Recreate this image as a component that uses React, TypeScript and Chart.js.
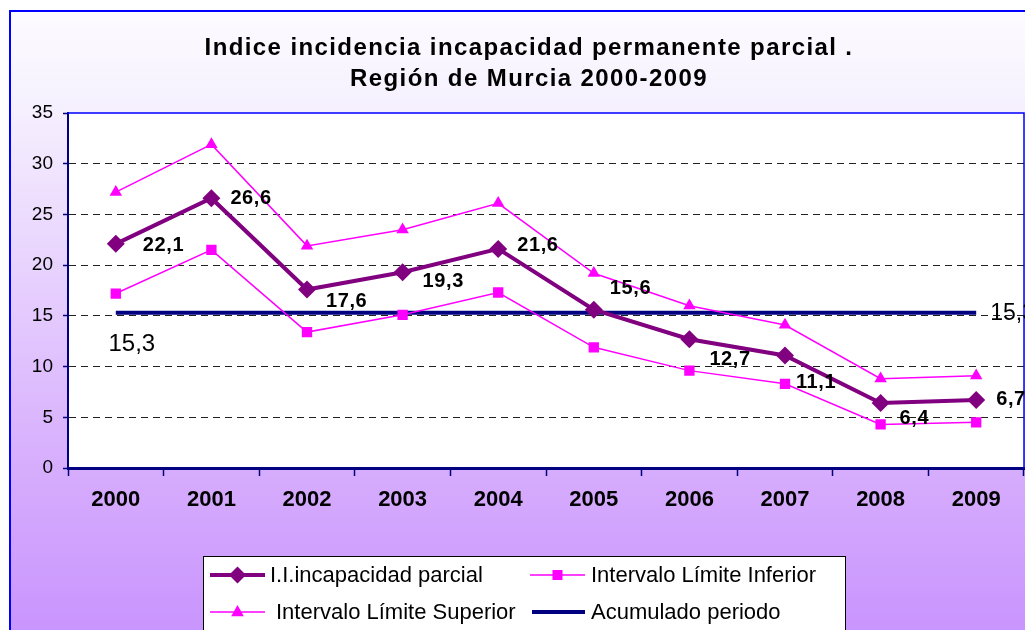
import React, { useEffect, useRef } from "react";
import { Chart, registerables } from "chart.js";

Chart.register(...registerables);

// ---- data ----
const years = ["2000", "2001", "2002", "2003", "2004", "2005", "2006", "2007", "2008", "2009"];
const indice = [22.1, 26.6, 17.6, 19.3, 21.6, 15.6, 12.7, 11.1, 6.4, 6.7];
const limiteInferior = [17.2, 21.5, 13.4, 15.1, 17.3, 11.9, 9.6, 8.3, 4.3, 4.5];
const limiteSuperior = [27.2, 31.9, 21.9, 23.5, 26.1, 19.2, 16.0, 14.1, 8.8, 9.1];
const acumulado = [15.3, 15.3, 15.3, 15.3, 15.3, 15.3, 15.3, 15.3, 15.3, 15.3];
const seriesNames = [
  "I.I.incapacidad parcial",
  "Intervalo Límite Inferior",
  "Intervalo Límite Superior",
  "Acumulado periodo",
];
const titleLines = ["Indice incidencia incapacidad permanente parcial .", "Región de Murcia 2000-2009"];

// ---- styles ----
const FONT = "'Liberation Sans', Arial, Helvetica, sans-serif";
const PURPLE = "#800080";
const MAGENTA = "#ff00ff";
const NAVY = "#000080";
const labelDx = [27, 19, 19, 20, 19, 16, 20, 11, 19, 20];
const labelDy = [2, 0, 12, 9, -3, -21, 20, 27, 15, -1];

const fmt = (v: number) => v.toFixed(1).replace(".", ",");

function drawMarker(ctx: CanvasRenderingContext2D, kind: string, x: number, y: number, r: number, color: string) {
  ctx.save();
  ctx.fillStyle = color;
  ctx.beginPath();
  if (kind === "diamond") {
    ctx.moveTo(x, y - r);
    ctx.lineTo(x + r, y);
    ctx.lineTo(x, y + r);
    ctx.lineTo(x - r, y);
  } else if (kind === "square") {
    ctx.rect(x - r, y - r, 2 * r, 2 * r);
  } else if (kind === "triangle") {
    ctx.moveTo(x, y - r);
    ctx.lineTo(x + r * 0.9, y + r * 0.6);
    ctx.lineTo(x - r * 0.9, y + r * 0.6);
  }
  ctx.closePath();
  ctx.fill();
  ctx.restore();
}

const decorPlugin = {
  id: "decor",
  beforeDraw(chart: any) {
    const { ctx, width, height, chartArea } = chart;
    ctx.save();
    const g = ctx.createLinearGradient(0, 0, 0, height);
    g.addColorStop(0, "#fdfcff");
    g.addColorStop(0.15, "#f6f1fe");
    g.addColorStop(0.75, "#d6acfd");
    g.addColorStop(1, "#c995fe");
    ctx.fillStyle = g;
    ctx.fillRect(1, 2, width, height);
    ctx.fillStyle = "#0000ff";
    ctx.fillRect(1, 2, width, 2);
    ctx.fillRect(1, 2, 2, height);
    ctx.fillStyle = "#ffffff";
    ctx.fillRect(chartArea.left, chartArea.top, chartArea.right - chartArea.left, chartArea.bottom - chartArea.top);

    // title
    ctx.fillStyle = "#000";
    ctx.font = `bold 24px ${FONT}`;
    (ctx as any).letterSpacing = "1.4px";
    ctx.textAlign = "center";
    ctx.textBaseline = "alphabetic";
    ctx.fillText(titleLines[0], 521, 47);
    ctx.fillText(titleLines[1], 521, 78);
    ctx.restore();
  },
  beforeDatasetsDraw(chart: any) {
    const { ctx, chartArea } = chart;
    ctx.save();
    ctx.strokeStyle = "#0000ff";
    ctx.lineWidth = 1.5;
    ctx.beginPath();
    ctx.moveTo(chartArea.left, chartArea.top);
    ctx.lineTo(chartArea.right, chartArea.top);
    ctx.lineTo(chartArea.right, chartArea.bottom);
    ctx.stroke();
    ctx.restore();
  },
  afterDatasetsDraw(chart: any) {
    const { ctx } = chart;
    ctx.save();
    // main series labels
    const meta = chart.getDatasetMeta(0);
    ctx.fillStyle = "#000";
    ctx.font = `bold 20px ${FONT}`;
    (ctx as any).letterSpacing = "0.6px";
    ctx.textAlign = "left";
    ctx.textBaseline = "middle";
    meta.data.forEach((pt: any, i: number) => {
      ctx.fillText(fmt(indice[i]), pt.x + labelDx[i], pt.y + labelDy[i]);
    });
    // accumulated labels
    const am = chart.getDatasetMeta(3);
    ctx.font = `24px ${FONT}`;
    (ctx as any).letterSpacing = "0px";
    const p0 = am.data[0];
    ctx.textAlign = "center";
    ctx.fillText(fmt(acumulado[0]), p0.x + 16, p0.y + 32);
    const pl = am.data[am.data.length - 1];
    ctx.font = `23px ${FONT}`;
    ctx.textAlign = "left";
    ctx.fillText(fmt(acumulado[acumulado.length - 1]), pl.x + 14, pl.y + 1);
    ctx.restore();
  },
  afterDraw(chart: any) {
    const { ctx } = chart;
    ctx.save();
    // legend box
    ctx.fillStyle = "#ffffff";
    ctx.fillRect(195, 548, 642, 100);
    ctx.strokeStyle = "#000";
    ctx.lineWidth = 1;
    ctx.strokeRect(195.5, 548.5, 642, 100);

    const items = [
      { x: 202, y: 567, color: PURPLE, w: 4, marker: "diamond", r: 8.5, text: seriesNames[0], tx: 262 },
      { x: 522, y: 567, color: MAGENTA, w: 1.5, marker: "square", r: 5, text: seriesNames[1], tx: 583 },
      { x: 202, y: 604, color: MAGENTA, w: 1.5, marker: "triangle", r: 7, text: seriesNames[2], tx: 268 },
      { x: 524, y: 604, color: NAVY, w: 4, marker: "", r: 0, text: seriesNames[3], tx: 583 },
    ];
    ctx.font = `22px ${FONT}`;
    ctx.textAlign = "left";
    ctx.textBaseline = "alphabetic";
    items.forEach((it) => {
      const x2 = it.marker === "" ? 577 : it.x + 55;
      ctx.strokeStyle = it.color;
      ctx.lineWidth = it.w;
      ctx.beginPath();
      ctx.moveTo(it.x, it.y);
      ctx.lineTo(x2, it.y);
      ctx.stroke();
      if (it.marker) drawMarker(ctx, it.marker, (it.x + x2) / 2, it.y, it.r, it.color);
      ctx.fillStyle = "#000";
      ctx.fillText(it.text, it.tx, it.y + 7);
    });
    ctx.restore();
  },
};

export default function App() {
  const ref = useRef<HTMLCanvasElement | null>(null);

  useEffect(() => {
    document.documentElement.style.overflow = "hidden";
    const canvas = ref.current;
    if (!canvas) return;
    const chart = new Chart(canvas, {
      type: "line",
      data: {
        labels: years,
        datasets: [
          {
            label: seriesNames[0],
            data: indice,
            borderColor: PURPLE,
            backgroundColor: PURPLE,
            borderWidth: 4,
            pointStyle: "rectRot",
            pointRadius: 9,
            pointBorderWidth: 0,
            tension: 0,
          },
          {
            label: seriesNames[1],
            data: limiteInferior,
            borderColor: MAGENTA,
            backgroundColor: MAGENTA,
            borderWidth: 1.5,
            pointStyle: "rect",
            pointRadius: 7.3,
            pointBorderWidth: 0,
            tension: 0,
          },
          {
            label: seriesNames[2],
            data: limiteSuperior,
            borderColor: MAGENTA,
            backgroundColor: MAGENTA,
            borderWidth: 1.5,
            pointStyle: "triangle",
            pointRadius: 7.2,
            pointBorderWidth: 0,
            tension: 0,
          },
          {
            label: seriesNames[3],
            data: acumulado,
            borderColor: NAVY,
            backgroundColor: NAVY,
            borderWidth: 4,
            pointRadius: 0,
            tension: 0,
          },
        ],
      },
      options: {
        responsive: false,
        animation: false,
        devicePixelRatio: 1,
        layout: { padding: { top: 105, left: 0, right: 9, bottom: 0 } },
        plugins: {
          legend: { display: false },
          title: { display: false },
          tooltip: { enabled: false },
        },
        scales: {
          x: {
            offset: true,
            afterFit: (s: any) => {
              s.height = 162;
            },
            grid: {
              offset: true,
              drawOnChartArea: false,
              drawTicks: true,
              tickLength: 8,
              tickColor: NAVY,
              tickWidth: 1.5,
            },
            border: { color: NAVY, width: 3 },
            ticks: {
              color: "#000",
              padding: 11,
              maxRotation: 0,
              font: { family: FONT, size: 22, weight: "bold" },
            },
          },
          y: {
            min: 0,
            max: 35,
            afterFit: (s: any) => {
              s.width = 60;
            },
            ticks: {
              stepSize: 5,
              color: "#000",
              padding: 10,
              font: { family: FONT, size: 19 },
            },
            grid: {
              color: (c: any) => (c.tick && (c.tick.value === 0 || c.tick.value === 35) ? "rgba(0,0,0,0)" : "#222"),
              lineWidth: 1,
              tickBorderDash: [],
              tickLength: 5,
              tickColor: NAVY,
              tickWidth: 1.5,
            },
            border: { color: NAVY, width: 2, dash: [7, 5] },
          },
        },
      },
      plugins: [decorPlugin],
    } as any);
    return () => chart.destroy();
  }, []);

  return (
    <div style={{ width: 1025, height: 622 }}>
      <canvas ref={ref} width={1025} height={622} style={{ display: "block", width: 1025, height: 622 }} />
    </div>
  );
}
